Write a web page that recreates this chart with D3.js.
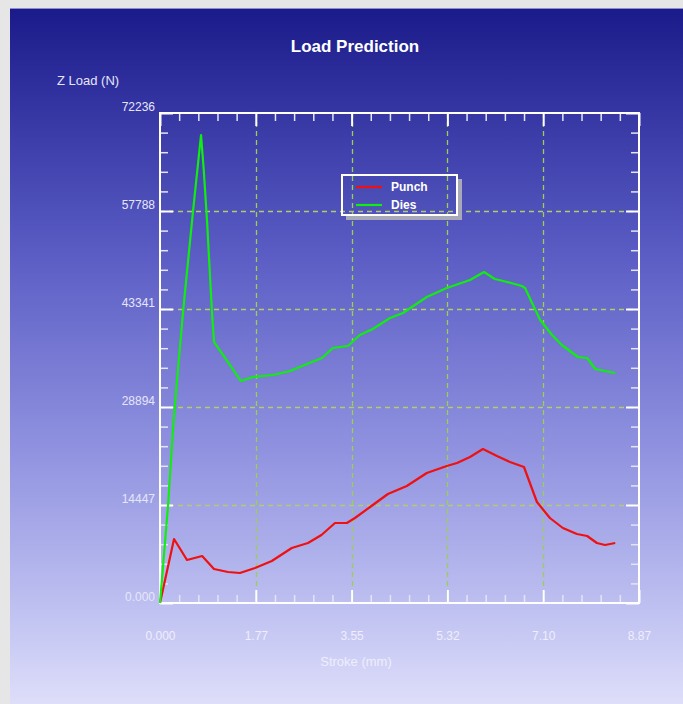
<!DOCTYPE html>
<html>
<head>
<meta charset="utf-8">
<script src="https://cdn.jsdelivr.net/npm/d3@7"></script>
<style>
  body { margin: 0; background: #e6e6e6; }
  svg { display: block; font-family: "Liberation Sans", Arial, sans-serif; }
</style>
</head>
<body>
<div id="chart"></div>
<script>
// stroke (mm) / load (N)
var strokePunch = [0, 0.26, 0.50, 0.78, 1.00, 1.26, 1.48, 1.76, 2.07, 2.44, 2.74, 2.99, 3.24, 3.46, 3.61,
  3.89, 4.22, 4.57, 4.94, 5.31, 5.50, 5.74, 5.98, 6.24, 6.48, 6.74, 6.98, 7.22, 7.46, 7.72, 7.91, 8.09, 8.24, 8.43];
var loadPunch = [0, 9435, 6339, 6929, 5012, 4570, 4423, 5160, 6192, 8108, 8845, 10024, 11794, 11794, 12531,
  14152, 16069, 17248, 19165, 20197, 20639, 21523, 22703, 21671, 20786, 20049, 14890, 12531, 11057, 10172, 9877, 8845, 8550, 8845];

var strokeDies = [0, 0.15, 0.24, 0.30, 0.43, 0.61, 0.76, 0.81, 0.87, 0.93, 0.96, 1.00, 1.50, 1.72, 2.09, 2.41,
  2.72, 3.00, 3.20, 3.33, 3.48, 3.70, 3.94, 4.26, 4.50, 4.69, 4.94, 5.31, 5.74, 6.00, 6.20, 6.43, 6.70, 6.76,
  6.89, 7.04, 7.26, 7.44, 7.74, 7.91, 8.06, 8.24, 8.43];
var loadDies = [0, 14447, 25504, 31400, 43194, 57641, 68992, 63833, 56461, 47617, 43194, 38477, 32727, 33317, 33612, 34201,
  35233, 36118, 37592, 37740, 37887, 39509, 40393, 42015, 42752, 43784, 45111, 46437, 47617, 48796, 47764, 47322, 46732, 46437,
  44226, 41720, 39509, 38035, 36266, 36118, 34496, 34201, 33907];

var xTickValues = [0, 1.774, 3.548, 5.322, 7.096, 8.87];
var xTickLabels = ["0.000", "1.77", "3.55", "5.32", "7.10", "8.87"];
var yTickValues = [0, 14447.2, 28894.4, 43341.6, 57788.8, 72236];
var yTickLabels = ["0.000", "14447", "28894", "43341", "57788", "72236"];

var seriesNames = ["Punch", "Dies"];
var seriesColors = ["#f01010", "#10ee10"];

var width = 683, height = 704;
var plotLeft = 160, plotRight = 639, plotTop = 113, plotBottom = 603;

var svg = d3.select("#chart").append("svg")
    .attr("width", width)
    .attr("height", height);

// panel gradient
var grad = svg.append("defs").append("linearGradient")
    .attr("id", "bg").attr("x1", 0).attr("y1", 0).attr("x2", 0).attr("y2", 1);
[[0, "rgb(26,26,138)"], [0.35, "rgb(90,92,196)"], [0.635, "rgb(144,146,224)"],
 [0.85, "rgb(188,190,240)"], [1, "rgb(222,222,250)"]].forEach(function(s) {
  grad.append("stop").attr("offset", s[0]).attr("stop-color", s[1]);
});

svg.append("rect").attr("x", 10).attr("y", 8).attr("width", width - 10).attr("height", height - 8)
    .attr("fill", "url(#bg)");
svg.append("line").attr("x1", 10).attr("x2", width).attr("y1", 8.5).attr("y2", 8.5)
    .attr("stroke", "#8c8cd0").attr("stroke-width", 1);

var x = d3.scaleLinear().domain([0, 8.87]).range([plotLeft, plotRight]);
var y = d3.scaleLinear().domain([0, 72236]).range([plotBottom, plotTop]);

// minor tick positions: 5 subdivisions between majors
function minors(vals) {
  var out = [];
  for (var i = 0; i < vals.length - 1; i++) {
    var step = (vals[i + 1] - vals[i]) / 5;
    for (var k = 1; k < 5; k++) out.push(vals[i] + k * step);
  }
  return out;
}

// grid
svg.append("g").selectAll("line")
    .data(yTickValues.slice(1, -1))
  .enter().append("line")
    .attr("x1", plotLeft).attr("x2", plotRight)
    .attr("y1", function(d) { return Math.round(y(d)) + 0.5; })
    .attr("y2", function(d) { return Math.round(y(d)) + 0.5; })
    .attr("stroke", "#b2cc6c").attr("stroke-width", 1.3)
    .attr("stroke-dasharray", "5,4");
svg.append("g").selectAll("line")
    .data(xTickValues.slice(1, -1))
  .enter().append("line")
    .attr("y1", plotTop).attr("y2", plotBottom)
    .attr("x1", function(d) { return Math.round(x(d)) + 0.5; })
    .attr("x2", function(d) { return Math.round(x(d)) + 0.5; })
    .attr("stroke", "#98d050").attr("stroke-width", 1.3)
    .attr("stroke-dasharray", "5,4");

// axes
function styleAxis(g, w, c) {
  g.select(".domain").remove();
  g.selectAll(".tick line").attr("stroke", c).attr("stroke-width", w);
  g.selectAll(".tick text").attr("fill", "#e6e6fa").style("font-size", "12px");
}

svg.append("g").attr("transform", "translate(" + plotLeft + ",0)")
    .call(d3.axisLeft(y).tickValues(yTickValues).tickSize(-13).tickPadding(5)
      .tickFormat(function(d, i) { return yTickLabels[i]; }))
    .call(styleAxis, 2, "#ffffff")
    .selectAll(".tick text").attr("dy", "-0.25em");
svg.append("g").attr("transform", "translate(" + plotLeft + ",0)")
    .call(d3.axisLeft(y).tickValues(minors(yTickValues)).tickSize(-8).tickFormat(""))
    .call(styleAxis, 1.5, "#e4e4f4");

svg.append("g").attr("transform", "translate(" + plotRight + ",0)")
    .call(d3.axisRight(y).tickValues(yTickValues).tickSize(-13).tickFormat(""))
    .call(styleAxis, 2, "#ffffff");
svg.append("g").attr("transform", "translate(" + plotRight + ",0)")
    .call(d3.axisRight(y).tickValues(minors(yTickValues)).tickSize(-8).tickFormat(""))
    .call(styleAxis, 1.5, "#e4e4f4");

svg.append("g").attr("transform", "translate(0," + plotBottom + ")")
    .call(d3.axisBottom(x).tickValues(xTickValues).tickSize(-13).tickPadding(28)
      .tickFormat(function(d, i) { return xTickLabels[i]; }))
    .call(styleAxis, 2, "#ffffff")
    .selectAll(".tick text").attr("fill", "#eeeefc");
svg.append("g").attr("transform", "translate(0," + plotBottom + ")")
    .call(d3.axisBottom(x).tickValues(minors(xTickValues)).tickSize(-8).tickFormat(""))
    .call(styleAxis, 1.5, "#e4e4f4");

svg.append("g").attr("transform", "translate(0," + plotTop + ")")
    .call(d3.axisTop(x).tickValues(xTickValues).tickSize(-13).tickFormat(""))
    .call(styleAxis, 2, "#ffffff");
svg.append("g").attr("transform", "translate(0," + plotTop + ")")
    .call(d3.axisTop(x).tickValues(minors(xTickValues)).tickSize(-8).tickFormat(""))
    .call(styleAxis, 1.5, "#e4e4f4");

// frame
svg.append("rect")
    .attr("x", plotLeft).attr("y", plotTop)
    .attr("width", plotRight - plotLeft).attr("height", plotBottom - plotTop)
    .attr("fill", "none").attr("stroke", "#ffffff").attr("stroke-width", 2);

// series
var line = d3.line()
    .x(function(d) { return x(d[0]); })
    .y(function(d) { return y(d[1]); });

var series = [d3.zip(strokePunch, loadPunch), d3.zip(strokeDies, loadDies)];
svg.append("g").selectAll("path")
    .data(series)
  .enter().append("path")
    .attr("d", line)
    .attr("fill", "none")
    .attr("stroke", function(d, i) { return seriesColors[i]; })
    .attr("stroke-width", 2.2)
    .attr("stroke-linejoin", "round");

// titles
svg.append("text")
    .attr("x", 355).attr("y", 52)
    .attr("text-anchor", "middle")
    .attr("fill", "#ffffff")
    .style("font-size", "17px").style("font-weight", "bold")
    .text("Load Prediction");

svg.append("text")
    .attr("x", 57).attr("y", 85)
    .attr("fill", "#e6e6fa")
    .style("font-size", "13px")
    .text("Z Load (N)");

svg.append("text")
    .attr("x", 356).attr("y", 666)
    .attr("text-anchor", "middle")
    .attr("fill", "#eeeefc")
    .style("font-size", "13px")
    .text("Stroke (mm)");

// legend
var lg = svg.append("g").attr("transform", "translate(342,175)");
lg.append("path")
    .attr("d", "M116,4 H120 V45 H4 V41 H116 Z")
    .attr("fill", "#a8a8b8");
lg.append("rect")
    .attr("x", 0).attr("y", 0).attr("width", 115).attr("height", 40)
    .attr("fill", "none").attr("stroke", "#ffffff").attr("stroke-width", 2);
var items = lg.selectAll(".item")
    .data(seriesNames)
  .enter().append("g")
    .attr("transform", function(d, i) { return "translate(0," + (12 + i * 18) + ")"; });
items.append("line")
    .attr("x1", 14).attr("x2", 40)
    .attr("stroke", function(d, i) { return seriesColors[i]; })
    .attr("stroke-width", 2.2);
items.append("text")
    .attr("x", 49).attr("dy", "0.35em")
    .attr("fill", "#ffffff")
    .style("font-size", "12px").style("font-weight", "bold")
    .text(function(d) { return d; });
</script>
</body>
</html>
